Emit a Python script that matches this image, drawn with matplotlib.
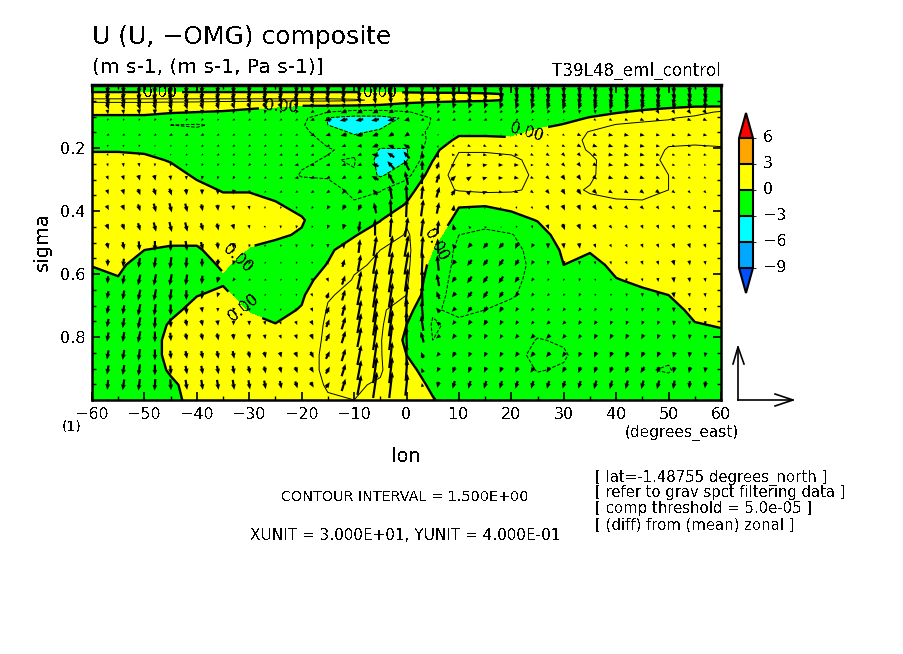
import numpy as np
import matplotlib
matplotlib.use('Agg')
import matplotlib.pyplot as plt
from matplotlib.colors import ListedColormap, BoundaryNorm

plt.rcParams['text.antialiased'] = False

W, H = 904, 654

# shaded field, rows top to bottom
lon = [-60, -55, -50, -45, -40, -35, -30, -25, -20, -15, -10, -5, 0, 5, 10, 15, 20, 25, 30, 35, 40, 45, 50, 55, 60]
sigma = [0.0, .016, .029, .048, .067, .086, .105, .127, .149, .175, .206, .238, .286, .333,
         .381, .429, .476, .524, .571, .619, .667, .714, .762, .810, .857, .905, .952, 1.0]
u_field = [
    [-1.2, -1.2, -1.2, -1.2, -1.2, -1.2, -1.2, -1.2, -1.2, -1.2, -1.2, -1.2, -1.2, -1.2, -1.2, -1.2, -1.2, -1.2, -1.2, -1.2, -1.2, -1.2, -1.2, -1.2, -1.2],
    [-.4, -.4, -.4, -.4, -.4, -.4, -.4, -.4, -.4, -.4, -.4, -.4, -.4, -.4, -.4, -.4, -.8, -.8, -.8, -.8, -.8, -.8, -.8, -.8, -.8],
    [.4, .4, .4, .4, .4, .4, .4, .4, .4, .4, .4, .4, .3, .2, .2, .1, -.05, -1, -1, -1, -1, -1, -1, -.9, -.8],
    [1.8, 1.8, 1.8, 1.8, 1.8, 1.8, 1.8, 1.8, 1.8, 1.8, 1.7, 1.2, .5, .3, .2, .15, -.1, -1.2, -1.2, -1.2, -1.1, -1, -.9, -.8, -.7],
    [1, 1, 1, .9, .8, .5, .3, .1, -.1, -.1, -.2, -.3, -.5, -.6, -.7, -.9, -1, -1, -1, -.9, -.6, -.4, -.2, -.1, -.1],
    [.5, .5, .5, .1, 0, -.1, -.3, -.5, -.5, -1.5, -2, -2, -1.6, -1, -1, -1.1, -1.2, -1.1, -1, -.5, -.1, .2, .4, 1, 1.7],
    [-.5, -.5, -.5, -.5, -.6, -.6, -.7, -.9, -1, -3.1, -3.5, -3.5, -2.8, -1.4, -1.2, -1.2, -1.2, -1.1, -.5, .1, .5, 1.1, 1.4, 1.8, 1.7],
    [-1, -1, -1.1, -1.5, -1.6, -1.3, -.9, -1, -1.3, -3, -3.6, -3.3, -2.2, -1.4, -1.3, -1.3, -1.1, -.4, .1, .7, 1.6, 1.8, 1.8, 1.8, 1.7],
    [-.9, -.9, -1, -1.2, -1.3, -1.2, -.9, -1, -1.1, -2.4, -3.2, -2.8, -2, -1.3, -.4, -.4, -.5, .3, .5, 1.6, 1.9, 2, 1.8, 1.8, 1.7],
    [-.7, -.7, -.8, -.9, -1, -1, -.9, -1, -.9, -1.8, -2.6, -2.5, -2.4, -1.2, .4, .4, .3, .7, .8, 1.8, 2, 2, 1.7, 1.6, 1.6],
    [-.1, -.1, -.2, -.6, -.8, -.9, -.9, -1.1, -1, -1.4, -1.8, -3.1, -3.1, -.5, 1.4, 1.4, 1.3, .8, 1, 1.6, 2.1, 2.1, 1.4, 1.4, 1.45],
    [.4, .4, .3, -.1, -.6, -.8, -.8, -1.2, -1.3, -1.6, -1.4, -3.5, -3.1, -.05, 1.8, 1.8, 1.7, 1.2, 1.2, 1.3, 2.1, 2.1, 1.2, 1.2, 1.2],
    [.7, .7, .8, .5, -.2, -.5, -.5, -.8, -1.6, -1.6, -1.6, -3.2, -2, .8, 2, 2, 1.9, 1.3, 1.2, 1.3, 2.2, 2.1, 1.5, 1.1, 1],
    [.9, 1, 1.1, 1, .4, -.1, -.1, -.3, -.8, -1.2, -1.7, -1.6, -.5, 1, 1.6, 1.8, 1.7, 1.2, 1.2, 1.6, 1.8, 1.9, 1.5, 1, .9],
    [1, 1.2, 1.2, 1.1, .9, .5, .5, .1, -.3, -.9, -1.4, -.8, .1, .9, .1, .1, .3, .5, 1, 1.2, 1.3, 1.3, 1.2, .9, .8],
    [1, 1.1, 1, 1, 1, .9, .7, .5, .1, -.7, -.8, -.05, 1.4, 1.2, -.5, -1.2, -.4, .05, .8, .9, 1, 1, .9, .8, .7],
    [.9, .9, .5, .5, .5, 1, .4, .15, -.1, -.5, -.1, .7, 1.6, .8, -1.5, -1.7, -1.6, -.5, .5, .6, .8, .9, .8, .7, .6],
    [.5, .7, 0, -.2, -.2, .7, -.1, -.3, -.4, -.2, .6, 1.5, 1.8, 0, -1.9, -2, -1.9, -1, .2, .1, .6, .7, .7, .6, .5],
    [.05, .3, -.7, -.8, -.6, .2, -.6, -.7, -.6, .05, 1.3, 1.7, 1.8, -.5, -1.9, -2, -1.9, -1.2, 0, -.4, .3, .5, .6, .5, .5],
    [-.4, -.1, -1, -1, -.5, -.2, -.9, -.8, -.5, .6, 1.6, 1.8, 1.7, -.9, -1.9, -2, -1.8, -1.1, -.4, -.6, -.05, .2, .3, .4, .4],
    [-.6, -.8, -1.1, -.9, -.05, .3, -.6, -.7, -.2, 1.4, 1.8, 1.8, 1.5, -1.2, -1.8, -1.9, -1.6, -1.1, -.7, -.8, -.4, -.2, 0, .3, .3],
    [-.7, -.8, -1.1, -.4, .5, .6, -.1, -.4, .1, 1.6, 1.8, 1.8, .5, -1.4, -1.7, -1.5, -1.2, -1.1, -1, -.9, -.6, -.5, -.3, .2, .2],
    [-.8, -.9, -1.1, .2, .7, .8, .4, .05, .6, 1.7, 1.8, 1.7, 0, -1.6, -1.3, -1.2, -1, -1.2, -1.2, -1, -.8, -.7, -.6, -.05, .05],
    [-.8, -.9, -1, .5, .8, .8, .6, .5, .9, 1.7, 1.7, 1.6, -.3, -1.5, -1.2, -1.1, -1, -1.55, -1.4, -1, -.9, -.9, -.9, -.3, -.2],
    [-.8, -.9, -1, .5, .8, .8, .7, .7, 1.1, 1.7, 1.6, 1.6, 0, -1.1, -1.1, -1.1, -1.1, -1.8, -1.6, -1, -1, -1.2, -1.3, -.5, -.4],
    [-.8, -.9, -1, .2, .8, .8, .7, .7, 1.1, 1.7, 1.6, 1.6, .6, -.9, -1, -1, -1, -1.55, -1.4, -1, -1, -1.4, -1.6, -.7, -.5],
    [-.7, -.8, -.9, -.3, .7, .7, .6, .7, 1, 1.6, 1.6, 1.4, .9, -.3, -.9, -.9, -.9, -1.2, -1, -.9, -.9, -1, -1.1, -.6, -.5],
    [-.7, -.7, -.8, -.4, .5, .6, .6, .6, .9, 1.4, 1.5, 1.2, 1, .1, -.8, -.8, -.8, -.8, -.8, -.8, -.8, -.8, -.8, -.5, -.5],
]

# vectors, lengths in pixels
vec_lon = [-57, -54, -51, -48, -45, -42, -39, -36, -33, -30, -27, -24, -21, -18, -15, -12, -9, -6, -3, 0,
           3, 6, 9, 12, 15, 18, 21, 24, 27, 30, 33, 36, 39, 42, 45, 48, 51, 54, 57]
vec_sigma = [.01, .03, .048, .067, .086, .111, .159, .194, .222, .254, .295, .34, .39, .451, .511, .565,
             .619, .667, .714, .756, .8, .857, .905, .952]
vec_u = [
    [-1, -1, -1, -1, -1, -1, -1, -1, -1, -1, -1, -1, -1, -1, -1, -1, -1, -1, -1, -1, -1, -1, -1, -1, -1, -1, -1, -1, -1, -1, -1, -1, -1, -1, -1, -1, -1, -1, -1],
    [1, 1, 1, 1, 1, 1, 1, 1, 1, 1, 1, 1, 1, 1, 1, 1, 1, 1, 1, 1, 1, 1, 0, 0, -1, -1, -1, -1, -1, -1, -1, -1, -1, -1, -1, -1, -1, -1, -1],
    [4, 4, 4, 4, 4, 4, 4, 4, 4, 4, 4, 4, 4, 4, 4, 4, 3, 2, 1, 0, 0, -1, -1, -2, -3, -3, -3, -3, -3, -3, -3, -3, -3, -3, -3, -3, -3, -3, -3],
    [3, 3, 3, 3, 3, 3, 3, 3, 3, 3, 3, 3, 1, 0, 0, -1, -1, -1, -2, -2, -2, -2, -2, -3, -3, -3, -3, -3, -3, -3, -3, -3, -3, -3, -3, -3, -2, -1, 0],
    [1, 1, 1, 0, 0, 0, 0, -1, -1, -1, -1, -1, -3, -4, -6, -7, -7, -7, -6, -4, -3, -3, -3, -3, -3, -3, -3, -3, -3, -2, -1, 0, 1, 1, 2, 3, 3, 4, 4],
    [-1, -1, -1, -2, -2, -2, -2, -2, -3, -3, -3, -3, -3, -5, -9, -10, -10, -10, -9, -7, -4, -4, -4, -4, -4, -3, -3, -2, -1, 0, 2, 3, 4, 4, 5, 5, 5, 5, 5],
    [-3, -3, -3, -3, -4, -4, -4, -3, -3, -3, -3, -3, -3, -5, -6, -8, -9, -8, -7, -6, -3, -1, 1, 1, 1, 1, 1, 2, 2, 3, 5, 5, 6, 6, 6, 5, 5, 5, 5],
    [0, 0, -1, -1, -2, -2, -3, -3, -3, -3, -3, -3, -3, -4, -4, -5, -6, -8, -8, -8, -2, 1, 3, 4, 4, 4, 4, 3, 3, 4, 5, 6, 6, 6, 6, 5, 4, 4, 4],
    [1, 1, 0, 0, -1, -2, -2, -3, -3, -3, -3, -4, -4, -4, -4, -4, -5, -9, -9, -8, -1, 2, 4, 5, 5, 5, 5, 4, 4, 4, 4, 5, 6, 6, 6, 5, 4, 4, 4],
    [1, 1, 1, 0, 0, -1, -2, -2, -2, -3, -3, -4, -5, -5, -5, -5, -5, -9, -9, -7, 0, 3, 5, 6, 6, 6, 6, 4, 4, 4, 4, 5, 6, 6, 6, 5, 4, 3, 3],
    [2, 2, 2, 2, 1, 0, -1, -1, -2, -2, -3, -4, -5, -5, -5, -5, -5, -9, -8, -4, 1, 4, 6, 6, 6, 6, 6, 4, 4, 4, 4, 5, 6, 6, 6, 5, 4, 3, 3],
    [2, 2, 3, 3, 3, 1, 0, 0, -1, -1, -2, -3, -3, -4, -4, -5, -5, -6, -3, -1, 2, 4, 5, 5, 6, 5, 5, 4, 4, 4, 5, 5, 5, 5, 5, 5, 4, 3, 3],
    [3, 3, 3, 3, 3, 3, 2, 1, 1, 1, 0, -1, -1, -2, -3, -4, -4, -3, -1, 1, 3, 3, 1, 1, 2, 2, 1, 2, 3, 3, 3, 4, 4, 4, 4, 3, 3, 3, 2],
    [3, 3, 3, 3, 3, 3, 3, 2, 2, 1, 1, 0, -1, -1, -2, -2, -2, 0, 2, 4, 3, 2, -2, -3, -3, -2, 0, 1, 2, 3, 3, 3, 3, 3, 2, 2, 2, 2, 2],
    [2, 2, 1, 0, 0, 2, 3, 1, 0, -1, -1, -1, -1, -1, 0, 1, 2, 4, 5, 5, 2, -1, -4, -5, -6, -6, -4, -3, 0, 1, 1, 2, 2, 2, 2, 2, 2, 2, 2],
    [0, -1, -2, -2, -2, -1, 0, -1, -2, -2, -2, -2, -1, 0, 1, 3, 4, 5, 5, 5, 1, -2, -5, -6, -6, -6, -5, -3, -1, -1, 0, 1, 1, 2, 2, 2, 2, 1, 1],
    [-1, -2, -3, -3, -3, -2, -1, -2, -3, -3, -3, -2, -1, 1, 2, 4, 5, 5, 5, 4, 0, -3, -5, -6, -6, -6, -5, -3, -2, -1, -1, 0, 0, 1, 1, 1, 1, 1, 1],
    [-2, -2, -3, -3, -2, 0, -1, -2, -2, -3, -2, -1, 0, 2, 3, 4, 5, 5, 5, 3, -1, -4, -5, -6, -6, -5, -4, -3, -3, -2, -2, -1, -1, 0, 0, 1, 1, 1, 1],
    [-2, -2, -3, -2, 0, 1, 1, 0, -1, -1, -1, 0, 1, 2, 4, 4, 5, 5, 5, 1, -2, -5, -5, -5, -5, -4, -3, -3, -3, -3, -3, -2, -2, -1, -1, -1, 0, 0, 0],
    [-2, -2, -3, -1, 1, 2, 2, 1, 0, 0, 1, 1, 2, 3, 4, 5, 5, 5, 5, 0, -3, -5, -4, -4, -4, -3, -3, -3, -4, -4, -3, -3, -2, -2, -2, -2, -1, 0, 0],
    [-2, -2, -3, 0, 1, 2, 2, 2, 1, 1, 1, 2, 2, 3, 5, 5, 5, 5, 4, -1, -4, -5, -4, -3, -3, -3, -4, -5, -5, -4, -3, -3, -3, -3, -3, -2, -1, -1, -1],
    [-2, -2, -2, 0, 1, 2, 2, 2, 2, 2, 2, 2, 3, 4, 5, 5, 5, 5, 4, 0, -3, -4, -4, -3, -3, -3, -4, -5, -5, -4, -3, -3, -3, -4, -4, -3, -2, -1, -1],
    [-2, -2, -2, 0, 1, 2, 2, 2, 2, 2, 2, 2, 3, 4, 5, 5, 5, 5, 4, 2, -2, -3, -3, -3, -3, -3, -4, -5, -4, -4, -3, -3, -3, -4, -5, -3, -2, -2, -1],
    [-1, -2, -2, -1, 1, 2, 2, 2, 2, 2, 2, 2, 3, 4, 5, 5, 5, 5, 4, 3, -1, -2, -3, -3, -3, -3, -3, -3, -3, -3, -3, -3, -3, -3, -3, -3, -2, -1, -1],
]
vec_w = [
    [-14, -14, -15, -15, -15, -14, -14, -14, -14, -13, -13, -13, -13, -12, -12, -12, -12, -12, -12, -12, -12, -12, -13, -13, -13, -14, -14, -14, -14, -14, -14, -15, -15, -15, -15, -15, -15, -14, -14],
    [-13, -13, -14, -14, -14, -13, -13, -13, -13, -12, -12, -12, -12, -12, -11, -11, -11, -11, -11, -11, -11, -11, -12, -12, -12, -13, -13, -13, -13, -13, -13, -14, -14, -14, -14, -14, -14, -13, -13],
    [-12, -12, -13, -13, -13, -12, -12, -12, -11, -11, -11, -11, -10, -10, -10, -10, -10, -10, -10, -10, -10, -10, -10, -11, -11, -11, -12, -12, -12, -12, -12, -13, -13, -13, -13, -13, -13, -12, -12],
    [-9, -9, -10, -10, -10, -9, -9, -9, -8, -8, -8, -7, -7, -6, -6, -6, -6, -6, -6, -6, -6, -6, -7, -7, -7, -8, -8, -8, -9, -9, -9, -10, -10, -10, -10, -10, -9, -9, -9],
    [-6, -6, -7, -7, -7, -6, -6, -6, -5, -5, -5, -4, -4, -3, -3, -3, -3, -3, -3, -3, -3, -3, -3, -3, -3, -3, -4, -4, -4, -4, -5, -5, -5, -5, -5, -5, -5, -5, -5],
    [-3, -3, -3, -3, -3, -3, -3, -2, -2, -2, -2, -2, -2, -2, -2, -2, -2, -2, -2, -2, -2, -2, -2, -2, -2, -2, -2, -2, -2, -2, -2, -2, -2, -2, -2, -2, -2, -2, -2],
    [-2, -2, -2, -2, -2, -2, -2, -2, -2, -2, -2, -2, -2, -2, -2, -2, -2, -3, -4, -4, -2, -2, -1, -1, -1, -1, -1, -1, -2, -2, -2, -2, -1, -1, -1, -1, -1, -1, -1],
    [-3, -3, -3, -2, -2, -2, -2, -2, -2, -2, -2, -2, -2, -2, -2, -2, -1, -3, 3, 5, 6, 3, -2, -2, -2, -2, -1, -1, -2, -2, -3, -2, -2, -1, -1, -1, -1, -1, -1],
    [-3, -3, -3, -2, -2, -2, -2, -2, -2, -2, -2, -1, -1, -1, -1, -1, -2, 2, 6, 9, 9, 6, -1, -1, -1, -1, -1, -2, -3, -4, -4, -2, -1, -1, -1, -1, -1, -1, -1],
    [-4, -5, -5, -4, -4, -3, -3, -3, -3, -3, -2, -1, -1, -1, -1, -2, -2, 3, 10, 14, 13, 9, 3, 1, 1, 0, 0, 0, -3, -4, -5, -3, -1, -1, -1, -1, -1, -1, -1],
    [-5, -6, -7, -7, -6, -5, -5, -4, -4, -3, -2, -1, -1, -2, -2, -3, -3, 5, 14, 18, 16, 12, 6, 4, 2, 0, -1, -2, -4, -6, -6, -4, -2, -2, -2, -2, -2, -2, -2],
    [-6, -7, -8, -9, -9, -8, -7, -7, -6, -4, -2, -2, -2, -2, -3, -5, -4, 7, 18, 20, 18, 14, 8, 5, 2, -1, -2, -3, -5, -7, -7, -5, -3, -3, -4, -4, -3, -3, -3],
    [-6, -7, -9, -11, -12, -11, -9, -8, -6, -5, -3, -3, -3, -3, -5, -7, -8, 14, 24, 24, 22, 15, 8, 3, 1, 0, -3, -3, -6, -7, -7, -6, -4, -4, -4, -4, -4, -4, -4],
    [-7, -8, -10, -12, -13, -12, -10, -9, -7, -5, -3, -4, -4, -3, -5, -7, -14, 22, 26, 26, 24, 18, 8, 3, 1, 0, -3, -4, -6, -8, -7, -6, -4, -4, -5, -5, -5, -5, -5],
    [-8, -10, -12, -13, -14, -13, -10, -9, -7, -4, -3, -3, -4, -4, -5, -8, 18, 26, 28, 28, 26, 20, 6, -6, -7, -7, -8, -5, -7, -7, -7, -5, -4, -4, -5, -5, -6, -6, -5],
    [-9, -11, -13, -14, -15, -14, -11, -9, -6, -4, -2, -2, -3, -3, -5, 10, 22, 28, 30, 30, 28, 20, -6, -8, -8, -9, -8, -5, -5, -5, -5, -4, -4, -4, -5, -5, -7, -6, -5],
    [-10, -12, -14, -15, -15, -14, -11, -8, -4, -2, -1, -2, -3, -4, -5, 12, 24, 30, 32, 30, 28, 16, -7, -9, -9, -9, -7, -4, -3, -3, -4, -3, -3, -4, -4, -5, -7, -6, -5],
    [-10, -12, -14, -15, -15, -13, -11, -6, -2, -2, -2, -2, -3, -4, 8, 14, 26, 32, 32, 30, 26, 10, -6, -8, -9, -8, -6, -4, -3, -3, -4, -3, -3, -4, -5, -5, -7, -5, -5],
    [-11, -12, -15, -15, -14, -12, -7, -5, -5, -4, -3, -3, -4, -5, 9, 15, 26, 32, 34, 30, 24, 6, -5, -7, -8, -7, -5, -4, -3, -4, -4, -4, -4, -4, -5, -5, -6, -5, -5],
    [-11, -13, -15, -15, -12, -9, -8, -7, -6, -6, -5, -4, -5, -6, 10, 16, 26, 32, 34, 30, 20, 4, -5, -6, -7, -6, -5, -4, -4, -4, -5, -5, -5, -5, -5, -5, -6, -5, -5],
    [-12, -13, -15, -14, -11, -9, -9, -9, -8, -7, -6, -5, -6, -7, 10, 16, 26, 34, 34, 28, 14, -4, -6, -6, -6, -5, -5, -5, -5, -5, -5, -6, -6, -6, -6, -6, -6, -6, -5],
    [-12, -13, -15, -14, -11, -10, -10, -10, -10, -9, -8, -7, -7, -8, 10, 16, 26, 34, 34, 28, 8, -5, -7, -6, -6, -6, -6, -6, -6, -6, -6, -7, -7, -7, -7, -7, -7, -7, -6],
    [-12, -13, -15, -14, -12, -11, -11, -11, -11, -10, -9, -8, -8, -7, 9, 16, 26, 34, 34, 28, 6, -6, -8, -8, -7, -7, -7, -7, -7, -7, -8, -8, -8, -8, -8, -8, -8, -8, -7],
    [-13, -14, -15, -15, -14, -13, -13, -13, -13, -12, -11, -10, -9, -7, 7, 16, 26, 34, 34, 28, 5, -8, -10, -10, -10, -10, -10, -10, -10, -10, -10, -11, -11, -11, -11, -11, -11, -10, -9],
]

levels = [-9, -6, -3, 0, 3, 6]
shade_colors = ['#00a8ff', '#00ffff', '#00ff00', '#ffff00', '#ffa500']
under_color = '#0050ff'
over_color = '#ff0000'
cbar_labels = ['\u22129', '\u22126', '\u22123', '0', '3', '6']
label_spots = [(-47, .02), (-24, .067), (23, .152), (5, .5), (-32, .555), (-31, .705), (-5, .02)]

# pixel helpers for placing things like the reference
def fx(px):
    return px / W

def fy(py):
    return 1 - py / H

def put(px, py, s, size, ha='left', rot=0):
    fig.text(fx(px), fy(py), s, fontsize=size, ha=ha, va='center', rotation=rot, color='black')

fig = plt.figure(figsize=(W / 100, H / 100), dpi=100)
ax = fig.add_axes([fx(92), fy(400), 629 / W, 315 / H])

cmap = ListedColormap(shade_colors)
cmap.set_under(under_color)
cmap.set_over(over_color)
norm = BoundaryNorm(levels, cmap.N)

x, y = np.meshgrid(lon, sigma)
z = np.array(u_field)
cf = ax.contourf(x, y, z, levels=levels, cmap=cmap, norm=norm, extend='both')
ax.contour(x, y, z, levels=[-3, -1.5], colors='k', linewidths=0.7, linestyles='--')
ax.contour(x, y, z, levels=[1.5], colors='k', linewidths=0.7, linestyles='-')
cs0 = ax.contour(x, y, z, levels=[0], colors='k', linewidths=1.7, linestyles='-')
ax.clabel(cs0, fmt='%.2f', manual=label_spots, fontsize=11, inline=True)

ax.quiver(vec_lon, vec_sigma, vec_u, vec_w, angles='uv', scale_units='dots', scale=1.3, pivot='mid',
          units='dots', width=2.2, headwidth=2.2, headlength=2.6, headaxislength=2.4, minlength=0.5,
          color='k', zorder=5)

ax.set_xlim(-60, 60)
ax.set_ylim(1.0, 0.0)
ax.set_xticks(np.arange(-60, 61, 10))
ax.set_yticks([0.2, 0.4, 0.6, 0.8])
ax.set_yticklabels(['0.2', '0.4', '0.6', '0.8'])
ax.set_yticks(np.arange(0.05, 1.0, 0.05), minor=True)
ax.set_xticks(np.arange(-60, 61, 5), minor=True)
ax.tick_params(which='major', direction='in', length=6, width=1.2, top=True, right=True, labelsize=11.5, pad=5)
ax.tick_params(which='minor', direction='in', length=3, width=1, top=True, right=True)
for sp in ax.spines.values():
    sp.set_linewidth(1.8)
ax.spines['top'].set_linewidth(2.5)

# colour key, the axes holds the end triangles too
cax = fig.add_axes([fx(739), fy(293), 14 / W, 180 / H])
cb = fig.colorbar(cf, cax=cax, extend='both', extendfrac=0.194, drawedges=True, ticks=[])
cb.outline.set_linewidth(1.5)
cb.dividers.set_linewidth(1.5)
for val, lab in zip(levels, cbar_labels):
    py = 267 - (val + 9) / 15 * 129
    put(763, py, lab, 11.5)

# vector key
for tip in [(738, 347), (793, 400)]:
    fig.add_artist(plt.Line2D([fx(738), fx(tip[0])], [fy(400), fy(tip[1])], color='k', lw=1.2))
fig.add_artist(plt.Line2D([fx(733), fx(738), fx(744)], [fy(364), fy(347), fy(364)], color='k', lw=1.2))
fig.add_artist(plt.Line2D([fx(775), fx(793), fx(775)], [fy(394), fy(400), fy(406)], color='k', lw=1.2))

put(92, 37, 'U (U, \u2212OMG) composite', 18)
put(92, 67, '(m s-1, (m s-1, Pa s-1)]', 14.5)
put(721, 71, 'T39L48_eml_control', 12.2, ha='right')
put(62, 426, '(1)', 10)
put(406, 456, 'lon', 14, ha='center')
put(42, 242, 'sigma', 14, ha='center', rot=90)
put(625, 433, '(degrees_east)', 11)
put(405, 497, 'CONTOUR INTERVAL = 1.500E+00', 10.4, ha='center')
put(405, 535, 'XUNIT = 3.000E+01, YUNIT = 4.000E-01', 11, ha='center')
put(595, 478, '[ lat=-1.48755 degrees_north ]', 10.7)
put(595, 493, '[ refer to grav spct filtering data ]', 10.6)
put(595, 509, '[ comp threshold = 5.0e-05 ]', 10.7)
put(595, 525, '[ (diff) from (mean) zonal ]', 10.7)

fig.savefig('out.png', dpi=100)
